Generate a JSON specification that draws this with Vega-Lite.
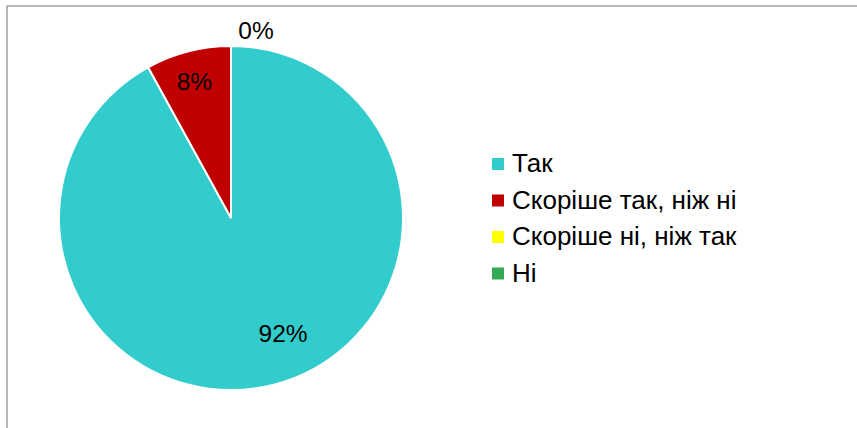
{
  "$schema": "https://vega.github.io/schema/vega-lite/v6.json",
  "padding": {"left": 6, "top": 4, "right": 0, "bottom": 0},
  "spacing": 0,
  "bounds": "flush",
  "background": "white",
  "data": {
    "values": [
      {"i": 1, "k": "Так", "v": 0.92},
      {"i": 2, "k": "Скоріше так, ніж ні", "v": 0.08},
      {"i": 3, "k": "Скоріше ні, ніж так", "v": 0.0},
      {"i": 4, "k": "Ні", "v": 0.0}
    ]
  },
  "hconcat": [
    {
      "width": 448,
      "height": 424,
      "view": {"stroke": "#a0a0a0", "strokeWidth": 1.5, "strokeDash": [448, 872, 424, 2]},
      "encoding": {
        "theta": {"field": "v", "type": "quantitative", "stack": true},
        "order": {"field": "i", "type": "quantitative"}
      },
      "layer": [
        {
          "mark": {"type": "arc", "outerRadius": 172, "stroke": "white", "strokeWidth": 2},
          "encoding": {
            "color": {
              "field": "k",
              "type": "nominal",
              "scale": {
                "domain": ["Так", "Скоріше так, ніж ні", "Скоріше ні, ніж так", "Ні"],
                "range": ["#33CCCC", "#C00000", "#FFFF00", "#35A853"]
              },
              "legend": {
                "title": null,
                "orient": "none",
                "legendX": 478,
                "legendY": 145,
                "symbolType": "square",
                "symbolSize": 144,
                "symbolStrokeWidth": 0,
                "labelFont": "Liberation Sans",
                "labelFontSize": 26,
                "labelColor": "black",
                "labelOffset": 1,
                "rowPadding": 10.5,
                "labelLimit": 400
              }
            }
          }
        },
        {
          "mark": {"type": "text", "radius": 121, "dx": 22, "font": "Liberation Sans", "fontSize": 24.5, "color": "black", "baseline": "middle", "align": "center"},
          "encoding": {
            "text": {"condition": {"test": "datum.k === 'Так'", "field": "v", "type": "quantitative", "format": ".0%"}, "value": ""}
          }
        },
        {
          "mark": {"type": "text", "radius": 139, "dx": -2, "font": "Liberation Sans", "fontSize": 24.5, "color": "black", "baseline": "middle", "align": "center"},
          "encoding": {
            "text": {"condition": {"test": "datum.k === 'Скоріше так, ніж ні'", "field": "v", "type": "quantitative", "format": ".0%"}, "value": ""}
          }
        },
        {
          "mark": {"type": "text", "radius": 186, "dx": 25, "font": "Liberation Sans", "fontSize": 24.5, "color": "black", "baseline": "middle", "align": "center"},
          "encoding": {
            "text": {"condition": {"test": "datum.k === 'Ні'", "field": "v", "type": "quantitative", "format": ".0%"}, "value": ""}
          }
        }
      ]
    },
    {
      "width": 402,
      "height": 424,
      "view": {"stroke": "#a0a0a0", "strokeWidth": 1.5, "strokeDash": [402, 3000]},
      "mark": {"type": "rule", "opacity": 0},
      "encoding": {}
    }
  ]
}
